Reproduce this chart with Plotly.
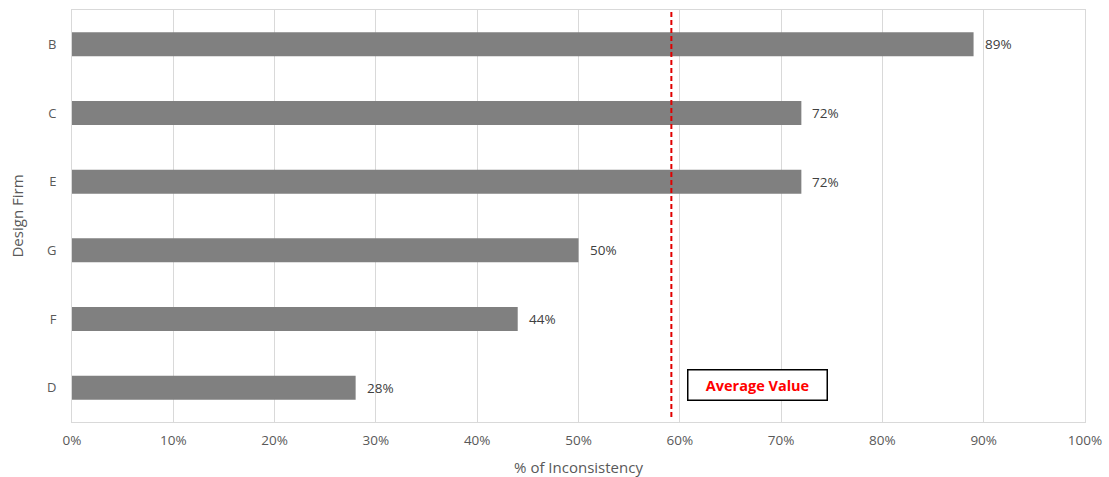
import plotly.graph_objects as go

firms = ["B", "C", "E", "G", "F", "D"]
values = [89, 72, 72, 50, 44, 28]
avg_value = sum(values) / len(values)
x_ticks = list(range(0, 101, 10))
x_tick_labels = [f"{v}%" for v in x_ticks]

font_family = "Open Sans, Liberation Sans, sans-serif"
label_color = "#595959"

fig = go.Figure()
fig.add_trace(go.Bar(
    y=firms, x=values, orientation="h",
    marker=dict(color="#808080", line=dict(width=0)),
    width=0.35, hoverinfo="skip",
))

for f, v in zip(firms, values):
    fig.add_annotation(x=v, y=f, xref="x", yref="y", text=f"{v}%",
                       showarrow=False, xanchor="left", xshift=9,
                       font=dict(family=font_family, size=13.5, color="#404040"))

fig.add_shape(type="line", xref="x", yref="paper", x0=avg_value, x1=avg_value,
              y0=0.012, y1=1, line=dict(color="#e00000", width=2, dash="5px,3px"))

fig.add_annotation(x=0.6767, y=0.0887, xref="paper", yref="paper",
                   text="<b>Average Value</b>", showarrow=False,
                   xanchor="center", yanchor="middle",
                   width=136, height=27, borderpad=1,
                   bordercolor="black", borderwidth=1.5, bgcolor="white",
                   font=dict(family=font_family, size=14.5, color="#ff0000"))

fig.update_layout(
    width=1109, height=477,
    margin=dict(l=72, r=24, t=10, b=55),
    plot_bgcolor="white", paper_bgcolor="white",
    showlegend=False,
    font=dict(family=font_family, size=13, color=label_color),
    xaxis=dict(range=[0, 100], tickvals=x_ticks, ticktext=x_tick_labels,
               automargin=False,
               showgrid=True, gridcolor="#d9d9d9", gridwidth=1,
               zeroline=False, showline=True, linecolor="#d9d9d9", mirror=True,
               ticks="", ticklen=0, ticklabelstandoff=6,
               title=dict(text="% of Inconsistency", standoff=14,
                          font=dict(size=15, color=label_color)),
               tickfont=dict(size=13.5, color=label_color)),
    yaxis=dict(categoryorder="array", categoryarray=firms[::-1],
               automargin=False,
               showgrid=False, zeroline=False, showline=True,
               linecolor="#d9d9d9", mirror=True, ticks="", ticklen=0,
               ticklabelstandoff=12,
               title=dict(text="Design Firm", standoff=19,
                          font=dict(size=15, color=label_color)),
               tickfont=dict(size=13, color=label_color)),
)

fig.write_html("out.html")
